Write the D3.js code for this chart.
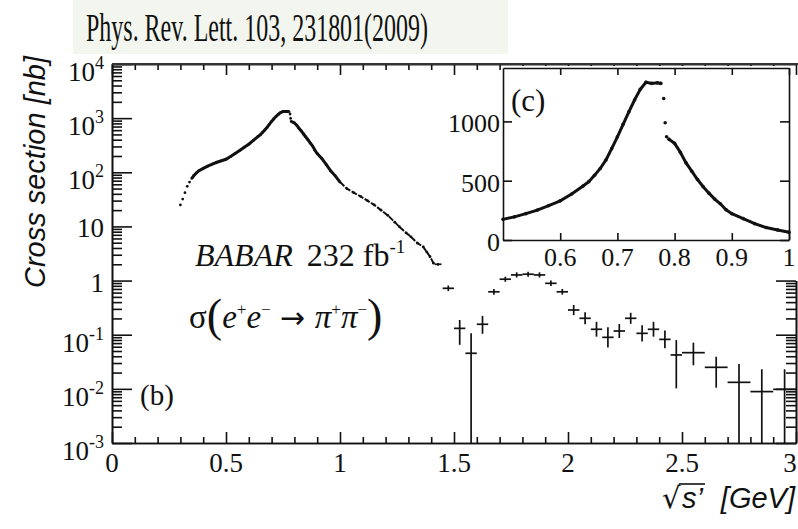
<!DOCTYPE html>
<html>
<head>
<meta charset="utf-8">
<script src="https://cdn.jsdelivr.net/npm/d3@7"></script>
<style>
  body { margin: 0; background: #fff; }
  text { fill: #111; }
</style>
</head>
<body>
<svg id="chart" width="798" height="529"></svg>
<script>
// fine scan over the rho region (sqrt(s') in GeV, cross section in nb)
var rhoX = [0.300, 0.310, 0.320, 0.330, 0.340, 0.350, 0.360, 0.370, 0.380, 0.400,
            0.420, 0.440, 0.460, 0.480, 0.500, 0.520, 0.540, 0.560, 0.580, 0.600,
            0.620, 0.640, 0.650, 0.660, 0.670, 0.680, 0.690, 0.700, 0.710, 0.720,
            0.730, 0.740, 0.750, 0.760, 0.770, 0.776, 0.781, 0.7835, 0.786, 0.790,
            0.800, 0.810, 0.820, 0.830, 0.840, 0.850, 0.860, 0.870, 0.880, 0.890,
            0.900, 0.920, 0.940, 0.960, 0.980, 1.000, 1.030, 1.060, 1.090, 1.120,
            1.150, 1.180, 1.210, 1.240, 1.260, 1.290, 1.310, 1.340, 1.365, 1.380,
            1.395, 1.410];
var rhoY = [25, 32, 42, 55, 66, 77, 88, 97, 106, 118,
            130, 142, 153, 163, 174, 195, 222, 252, 290, 330,
            388, 455, 492, 545, 603, 675, 770, 870, 975, 1080,
            1180, 1270, 1330, 1320, 1325, 1320, 1193, 988, 870, 850,
            815, 740, 650, 580, 510, 449, 395, 345, 305, 255,
            222, 180, 138, 105, 85, 66, 50, 42, 36, 30,
            25, 20, 16, 12, 9.9, 7.6, 6.5, 4.9, 4.2, 3.4,
            2.76, 2.1];

// wide bins above 1.4 GeV
var binX    = [1.430, 1.475, 1.525, 1.575, 1.625, 1.675, 1.725, 1.775, 1.825, 1.875,
               1.925, 1.975, 2.025, 2.075, 2.125, 2.175, 2.225, 2.275, 2.325, 2.375,
               2.425, 2.475, 2.55, 2.65, 2.75, 2.85, 2.95];
var binHalf = [0.015, 0.025, 0.025, 0.025, 0.025, 0.025, 0.025, 0.025, 0.025, 0.025,
               0.025, 0.025, 0.025, 0.025, 0.025, 0.025, 0.025, 0.025, 0.025, 0.025,
               0.025, 0.025, 0.05, 0.05, 0.05, 0.05, 0.05];
var binY    = [2.0, 0.72, 0.131, 0.0454, 0.156, 0.62, 1.06, 1.27, 1.31, 1.27,
               0.89, 0.62, 0.286, 0.201, 0.126, 0.0895, 0.117, 0.201, 0.106, 0.126,
               0.082, 0.0423, 0.0466, 0.025, 0.0132, 0.0089, 0.0098];
var binLo   = [1.88, 0.64, 0.065, 0, 0.104, 0.55, 0.95, 1.14, 1.18, 1.14,
               0.79, 0.55, 0.23, 0.156, 0.092, 0.058, 0.087, 0.159, 0.075, 0.092,
               0.056, 0.0102, 0.0273, 0.0105, 0, 0, 0];
var binHi   = [2.12, 0.81, 0.187, 0.106, 0.223, 0.70, 1.18, 1.42, 1.46, 1.42,
               1.00, 0.70, 0.354, 0.259, 0.173, 0.137, 0.158, 0.254, 0.149, 0.173,
               0.120, 0.0795, 0.0713, 0.0392, 0.0288, 0.023, 0.023];

var xMajor = [0, 0.5, 1, 1.5, 2, 2.5, 3];
var xLabels = ["0", "0.5", "1", "1.5", "2", "2.5", "3"];
var yMajor = [1e-3, 1e-2, 1e-1, 1, 10, 1e2, 1e3, 1e4];
var yBase = ["10", "10", "10", "1", "10", "10", "10", "10"];
var yExp = ["-3", "-2", "-1", "", "", "2", "3", "4"];
var insetXTicks = [0.6, 0.7, 0.8, 0.9, 1];
var insetXLabels = ["0.6", "0.7", "0.8", "0.9", "1"];
var insetYTicks = [0, 500, 1000];

var SERIF = "'Liberation Serif', 'Times New Roman', serif";
var SANS = "'Liberation Sans', Arial, sans-serif";
var INK = "#111";

var svg = d3.select("#chart");

var rho = rhoX.map(function(v, i) { return { x: v, y: rhoY[i] }; });
var bins = binX.map(function(v, i) {
    return { x: v, h: binHalf[i], y: binY[i], lo: binLo[i], hi: binHi[i] };
});
// points sitting in the omega drop are drawn as loose dots, not joined
function inGap(d) { return d.x > 0.777 && d.x < 0.789; }

// ---------- title banner ----------
svg.append("rect")
    .attr("x", 73).attr("y", 0).attr("width", 435).attr("height", 54)
    .attr("fill", "#f3f6ee");
svg.append("text")
    .attr("x", 86).attr("y", 41)
    .attr("font-family", SERIF).attr("font-size", 40)
    .attr("textLength", 342).attr("lengthAdjust", "spacingAndGlyphs")
    .text("Phys. Rev. Lett. 103, 231801(2009)");

// ---------- main frame ----------
var x = d3.scaleLinear().domain([0, 3]).range([112, 796]);
var y = d3.scaleLog().domain([1e-3, 1e4]).range([443, 64]);

var xMinor = d3.range(0, 31).map(function(i) { return i / 10; })
    .filter(function(v) { return Math.abs(v * 2 - Math.round(v * 2)) > 1e-6; });
var yMinor = [];
d3.range(-3, 4).forEach(function(p) {
    d3.range(2, 10).forEach(function(m) { yMinor.push(m * Math.pow(10, p)); });
});

function styleAxis(g) {
    g.selectAll("path, line").attr("stroke", INK).attr("stroke-width", 1.6);
    g.selectAll("text").remove();
}

svg.append("g").attr("transform", "translate(0,443)")
    .call(d3.axisBottom(x).tickValues(xMinor).tickSize(-6).tickSizeOuter(0)).call(styleAxis);
svg.append("g").attr("transform", "translate(0,443)")
    .call(d3.axisBottom(x).tickValues(xMajor).tickSize(-11).tickSizeOuter(0)).call(styleAxis);
svg.append("g").attr("transform", "translate(0,64)")
    .call(d3.axisTop(x).tickValues(xMinor).tickSize(-6).tickSizeOuter(0)).call(styleAxis);
svg.append("g").attr("transform", "translate(0,64)")
    .call(d3.axisTop(x).tickValues(xMajor).tickSize(-11).tickSizeOuter(0)).call(styleAxis);

svg.append("g").attr("transform", "translate(112,0)")
    .call(d3.axisLeft(y).tickValues(yMinor).tickSize(-10).tickSizeOuter(0)).call(styleAxis);
svg.append("g").attr("transform", "translate(112,0)")
    .call(d3.axisLeft(y).tickValues(yMajor).tickSize(-20).tickSizeOuter(0)).call(styleAxis);

// right axis is only visible below the inset
var yRight = y.copy().domain([1e-3, 1]).range([y(1e-3), y(1)]);
svg.append("g").attr("transform", "translate(796,0)")
    .call(d3.axisRight(yRight).tickValues(yMinor.filter(function(v) { return v < 1; }))
        .tickSize(-10).tickSizeOuter(0)).call(styleAxis);
svg.append("g").attr("transform", "translate(796,0)")
    .call(d3.axisRight(yRight).tickValues([1e-3, 1e-2, 1e-1, 1])
        .tickSize(-20).tickSizeOuter(0)).call(styleAxis);

// tick labels (the last one is pulled in so it stays on the page)
svg.append("g").selectAll("text").data(xMajor).join("text")
    .attr("x", function(d) { return Math.min(x(d), 790); }).attr("y", 472)
    .attr("text-anchor", "middle")
    .attr("font-family", SERIF).attr("font-size", 27)
    .text(function(d, i) { return xLabels[i]; });

var yl = svg.append("g").selectAll("text").data(yMajor).join("text")
    .attr("x", 104)
    .attr("y", function(d, i) { return y(d) + (yExp[i] ? 17 : 11); })
    .attr("text-anchor", "end")
    .attr("font-family", SERIF).attr("font-size", 27);
yl.append("tspan").text(function(d, i) { return yBase[i]; });
yl.append("tspan").attr("dy", -12).attr("font-size", 18)
    .text(function(d, i) { return yExp[i]; });

// axis titles
svg.append("text")
    .attr("transform", "translate(45,172) rotate(-90)")
    .attr("text-anchor", "middle")
    .attr("font-family", SANS).attr("font-style", "italic").attr("font-size", 29)
    .text("Cross section [nb]");

var xt = svg.append("g").attr("font-family", SANS).attr("font-style", "italic").attr("font-size", 29);
var rad = xt.append("text").attr("x", 662).attr("y", 508)
    .attr("font-family", "'DejaVu Sans', sans-serif").attr("font-style", "normal").attr("font-size", 29)
    .text("\u221A");
var radBox = rad.node().getBBox();
var sPart = xt.append("text").attr("x", 682).attr("y", 508).text("s\u2019");
var sLen = sPart.node().getComputedTextLength();
var barY = Math.max(radBox.y + 3, 484);
xt.append("line")
    .attr("x1", radBox.x + radBox.width - 2).attr("x2", 684 + sLen)
    .attr("y1", barY).attr("y2", barY)
    .attr("stroke", INK).attr("stroke-width", 1.6);
xt.append("text").attr("x", 795).attr("y", 508).attr("text-anchor", "end").text("[GeV]");

// ---------- main data ----------
var plot = svg.append("g");

var lineMain = d3.line()
    .defined(function(d) { return d.x >= 0.345 && !inGap(d); })
    .x(function(d) { return x(d.x); })
    .y(function(d) { return y(d.y); });
plot.append("path")
    .datum(rho.filter(function(d) { return d.x <= 1.0; }))
    .attr("d", lineMain)
    .attr("fill", "none").attr("stroke", INK).attr("stroke-width", 3);
plot.append("path")
    .datum(rho.filter(function(d) { return d.x >= 1.0; }))
    .attr("d", lineMain)
    .attr("fill", "none").attr("stroke", INK).attr("stroke-width", 2)
    .attr("stroke-dasharray", "6,1.5");
plot.selectAll("circle.rho").data(rho).join("circle")
    .attr("class", "rho")
    .attr("cx", function(d) { return x(d.x); })
    .attr("cy", function(d) { return y(d.y); })
    .attr("r", 1.4).attr("fill", INK);

var cross = plot.selectAll("g.bin").data(bins).join("g").attr("class", "bin")
    .attr("stroke", INK).attr("stroke-width", 1.7);
cross.append("line")
    .attr("x1", function(d) { return x(d.x - d.h); })
    .attr("x2", function(d) { return x(d.x + d.h); })
    .attr("y1", function(d) { return y(d.y); })
    .attr("y2", function(d) { return y(d.y); });
cross.append("line")
    .attr("x1", function(d) { return x(d.x); })
    .attr("x2", function(d) { return x(d.x); })
    .attr("y1", function(d) { return d.lo > 0 ? y(d.lo) : y(1e-3); })
    .attr("y2", function(d) { return y(d.hi); });

// labels inside the main frame
svg.append("text")
    .attr("x", 140).attr("y", 405)
    .attr("font-family", SERIF).attr("font-size", 29)
    .text("(b)");

var babar = svg.append("text")
    .attr("x", 195).attr("y", 266)
    .attr("font-family", SERIF).attr("font-size", 32);
babar.append("tspan").attr("font-style", "italic").text("BABAR");
babar.append("tspan").attr("dx", 14).text("232 fb");
babar.append("tspan").attr("dy", -13).attr("font-size", 19).text("-1");

var formula = svg.append("text")
    .attr("x", 189).attr("y", 328)
    .attr("font-family", SERIF).attr("font-size", 33);
formula.append("tspan").text("\u03C3");
formula.append("tspan").attr("font-size", 46).attr("dy", 3).text("(");
formula.append("tspan").attr("font-style", "italic").attr("dy", -3).text("e");
formula.append("tspan").attr("font-size", 17).attr("dy", -13).text("+");
formula.append("tspan").attr("font-style", "italic").attr("dy", 13).text("e");
formula.append("tspan").attr("font-size", 17).attr("dy", -13).text("\u2212");
formula.append("tspan").attr("dy", 13).attr("dx", 9)
    .attr("font-family", "'DejaVu Sans', sans-serif").attr("font-size", 30).text("\u2192");
formula.append("tspan").attr("dx", 10).attr("font-style", "italic").text("\u03C0");
formula.append("tspan").attr("font-size", 17).attr("dy", -13).text("+");
formula.append("tspan").attr("font-style", "italic").attr("dy", 13).text("\u03C0");
formula.append("tspan").attr("font-size", 17).attr("dy", -13).text("\u2212");
formula.append("tspan").attr("font-size", 46).attr("dy", 16).text(")");

// ---------- inset (c) ----------
var ix = d3.scaleLinear().domain([0.5, 1]).range([503, 789]);
var iy = d3.scaleLinear().domain([0, 1450]).range([240, 68]);
var inset = svg.append("g");

inset.append("rect")
    .attr("x", 503).attr("y", 66).attr("width", 286).attr("height", 174)
    .attr("fill", "#fff");

function styleInset(g) {
    g.selectAll("path, line").attr("stroke", INK).attr("stroke-width", 1.6);
    g.selectAll("text").remove();
}
inset.append("g").attr("transform", "translate(0,240)")
    .call(d3.axisBottom(ix).tickValues(insetXTicks).tickSize(-7).tickSizeOuter(0)).call(styleInset);
inset.append("g").attr("transform", "translate(0,68)")
    .call(d3.axisTop(ix).tickValues(insetXTicks).tickSize(-7).tickSizeOuter(0)).call(styleInset);
inset.append("g").attr("transform", "translate(503,0)")
    .call(d3.axisLeft(iy).tickValues(insetYTicks).tickSize(-9).tickSizeOuter(0)).call(styleInset);
inset.append("g").attr("transform", "translate(789,0)")
    .call(d3.axisRight(iy).tickValues(insetYTicks).tickSize(-9).tickSizeOuter(0)).call(styleInset);

inset.append("g").selectAll("text").data(insetXTicks).join("text")
    .attr("x", function(d) { return ix(d); }).attr("y", 266)
    .attr("text-anchor", "middle")
    .attr("font-family", SERIF).attr("font-size", 26)
    .text(function(d, i) { return insetXLabels[i]; });
inset.append("g").selectAll("text").data(insetYTicks).join("text")
    .attr("x", 500).attr("y", function(d) { return iy(d) + 11; })
    .attr("text-anchor", "end")
    .attr("font-family", SERIF).attr("font-size", 26)
    .text(function(d) { return d; });

var inRange = rho.filter(function(d) { return d.x >= 0.5 && d.x <= 1.0; });
var lineInset = d3.line()
    .defined(function(d) { return !inGap(d); })
    .x(function(d) { return ix(d.x); })
    .y(function(d) { return iy(d.y); });
inset.append("path").datum(inRange)
    .attr("d", lineInset)
    .attr("fill", "none").attr("stroke", INK).attr("stroke-width", 3);
inset.selectAll("circle").data(inRange).join("circle")
    .attr("cx", function(d) { return ix(d.x); })
    .attr("cy", function(d) { return iy(d.y); })
    .attr("r", 1.8).attr("fill", INK);

inset.append("text")
    .attr("x", 511).attr("y", 111)
    .attr("font-family", SERIF).attr("font-size", 31)
    .text("(c)");

// the top frame line runs across the inset edge
svg.append("line")
    .attr("x1", 112).attr("x2", 798).attr("y1", 64).attr("y2", 64)
    .attr("stroke", "#333").attr("stroke-width", 2.2);
</script>
</body>
</html>
